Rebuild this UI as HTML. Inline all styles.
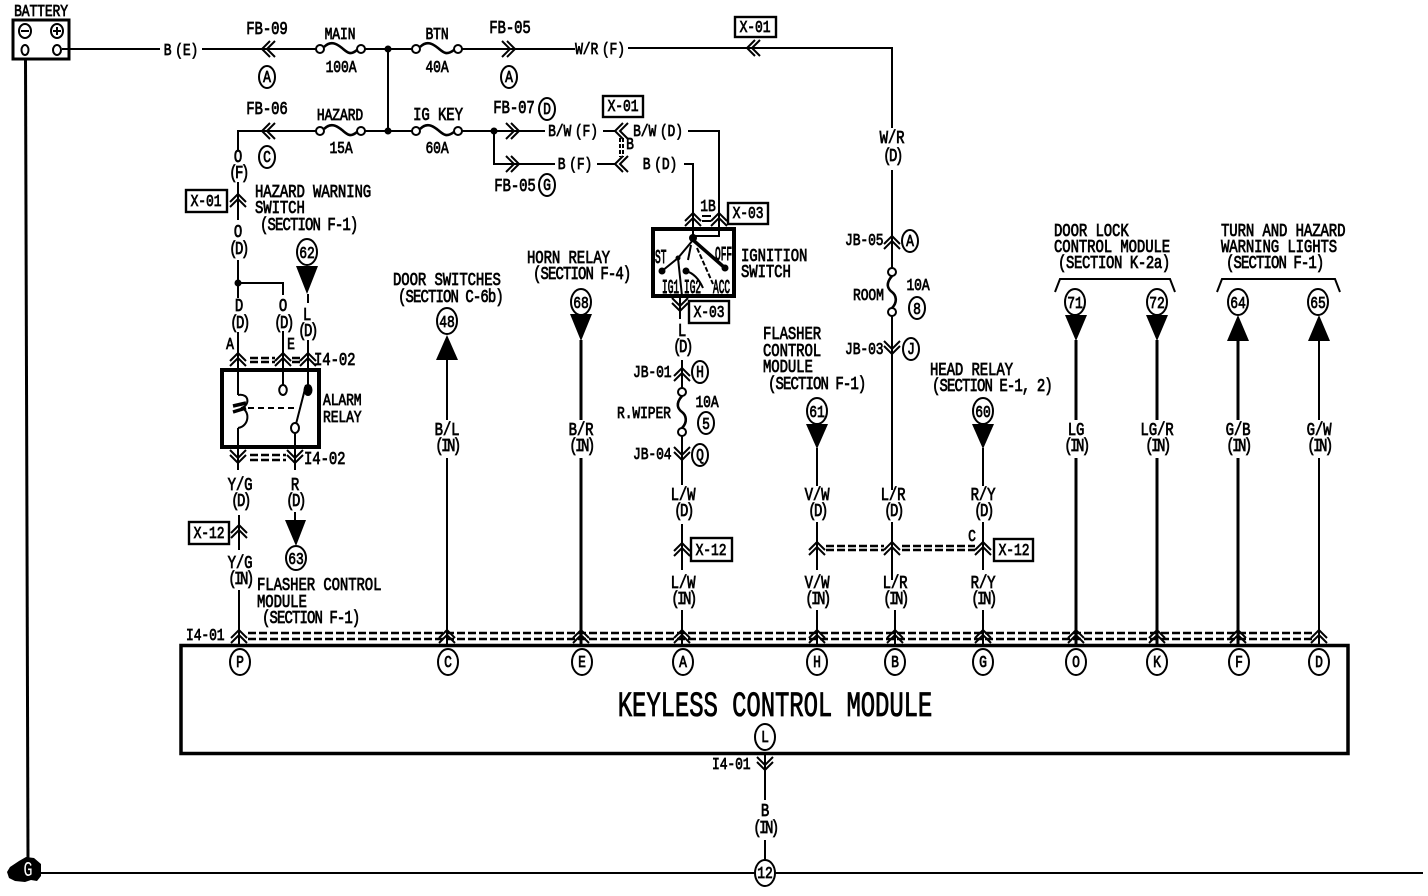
<!DOCTYPE html>
<html><head><meta charset="utf-8"><style>
html,body{margin:0;padding:0;background:#fff}
svg{display:block}
text{font-family:"Liberation Mono",monospace;font-size:14px;fill:#000;stroke:#000;stroke-width:.6;letter-spacing:-.1px}
.m{text-anchor:middle}
.s{font-size:13px}
.y{word-spacing:-4px}
.q{letter-spacing:-2.5px}
.x{letter-spacing:-.9px}
.i{font-size:9.5px;stroke-width:.5;letter-spacing:0}
.w{fill:none;stroke:#000;stroke-width:2}
.t{fill:none;stroke:#000;stroke-width:3}
.d{fill:none;stroke:#000;stroke-width:2.6;stroke-dasharray:8 3}
.f{fill:none;stroke:#000;stroke-width:2.6}
.c{fill:#fff;stroke:#000;stroke-width:2}
.a{fill:none;stroke:#000;stroke-width:2}
.b{fill:#fff;stroke:#000;stroke-width:2.4}
</style></head><body>
<svg width="1428" height="896" viewBox="0 0 1428 896" xmlns="http://www.w3.org/2000/svg">
<defs>
<g id="u" class="a"><path d="M-8 3 0-5 8 3M-8 8 0 0 8 8M0-6V10"/></g>
<g id="n" class="a"><path d="M-8-3 0 5 8-3M-8-8 0 0 8-8M0 6V-10"/></g>
<g id="l" class="a"><path d="M3-8-5 0 3 8M8-8 0 0 8 8"/></g>
<g id="r" class="a"><path d="M-3-8 5 0-3 8M-8-8 0 0-8 8"/></g>
</defs>

<!-- battery & ground -->
<rect x="13" y="20" width="56" height="39" fill="none" stroke="#000" stroke-width="3"/>
<ellipse class="c" cx="25" cy="31" rx="6" ry="7"/><ellipse class="c" cx="57" cy="31" rx="6" ry="7"/>
<path class="w" d="M21 31h8M53 31h8M57 27v8"/>
<ellipse class="c" cx="25" cy="50" rx="3.5" ry="5"/><ellipse class="c" cx="57" cy="50" rx="4" ry="5"/>
<path d="M25.5 59 28 862" fill="none" stroke="#000" stroke-width="3"/>
<path class="w" d="M38 873H1423" stroke-width="3"/>
<path d="M7 872 10 867 19 861 26 857 34 858 41 864 41 876 37 881 31 880 25 882 15 881 9 878Z" fill="#000"/>

<!-- top row -->
<path class="w" d="M62 49H160M202 49H316M365 49H412M462 49H575M628 48H892V128M388 49V131"/>
<circle cx="388" cy="49" r="3.5"/><circle cx="388" cy="131" r="3.5"/>
<circle class="c" cx="320" cy="49" r="4"/><circle class="c" cx="361" cy="49" r="4"/>
<circle class="c" cx="416" cy="49" r="4"/><circle class="c" cx="458" cy="49" r="4"/>
<path class="f" d="M324 47C331 40 337 44 342 48S350 56 357 50M420 47C427 40 433 44 438 48S446 56 454 50"/>
<use href="#l" x="267" y="49"/><use href="#r" x="510" y="49"/><use href="#l" x="752" y="48"/>

<!-- second row -->
<path class="w" d="M238 150V131H316M365 131H412M462 131H545M603 131H616M688 131H719V236H695M494 131V164H555M597 164H616M684 164H693V237"/>
<circle class="c" cx="320" cy="131" r="4"/><circle class="c" cx="361" cy="131" r="4"/>
<circle class="c" cx="416" cy="131" r="4"/><circle class="c" cx="458" cy="131" r="4"/>
<path class="f" d="M324 129C331 122 337 126 342 130S350 138 357 132M420 129C427 122 433 126 438 130S446 138 454 132"/>
<circle cx="494" cy="131" r="3.5"/>
<use href="#l" x="267" y="131"/><use href="#r" x="514" y="131"/><use href="#r" x="514" y="164"/>
<use href="#l" x="620" y="131"/><use href="#l" x="620" y="164"/>
<path class="a" d="M620 138V157M623 138V157" stroke-dasharray="4 2"/>

<!-- ignition switch -->
<rect x="653" y="229" width="81" height="67" fill="none" stroke="#000" stroke-width="4"/>
<use href="#u" x="693" y="218"/><use href="#u" x="719" y="218"/>
<path class="w" d="M693 209V229M719 209V229M702 216H711M702 221H711"/>
<circle cx="693" cy="238" r="4"/>
<path d="M693 240 725 268" fill="none" stroke="#000" stroke-width="3.5"/>
<path class="w" d="M693 240 678 258 662 271"/>
<circle cx="725" cy="268" r="3.5"/><circle cx="662" cy="271" r="3.5"/><circle cx="686" cy="271" r="3.5"/><circle cx="678" cy="258" r="2.5"/>
<path class="w" d="M691 245 688 260M686 271C693 273 699 279 703 288M678 258 682 296"/>
<path class="a" d="M697 248 713 284" stroke-dasharray="5 2"/>
<use href="#n" x="680" y="306"/><path class="w" d="M680 296V319"/>

<!-- left hazard branch -->
<path class="w" d="M238 182V220M238 260V298M238 283H283V295M283 331V386M238 332V395M238 428V470M308 294V303M308 340V386"/>
<circle cx="238" cy="283" r="3.5"/>
<use href="#u" x="238" y="199"/>
<use href="#u" x="238" y="358"/><use href="#u" x="283" y="358"/><use href="#u" x="308" y="358"/>
<path class="d" d="M250 358H275M250 362H275M292 358H300M292 362H300"/>
<!-- relay -->
<rect x="222" y="370" width="97" height="77" fill="none" stroke="#000" stroke-width="4"/>
<ellipse class="c" cx="283" cy="390" rx="3.8" ry="5"/>
<ellipse cx="308" cy="390" rx="4.5" ry="6"/>
<path class="w" d="M238 395C250 393 250 406 241 408C250 410 250 426 238 428"/>
<path d="M233 406 246 403M233 412 246 408" fill="none" stroke="#000" stroke-width="3.5"/>
<path class="a" d="M248 408H298" stroke-dasharray="6 4"/>
<path class="w" d="M306 385 296 424M295 432V470"/>
<ellipse class="c" cx="295" cy="428" rx="4" ry="5"/>
<use href="#n" x="238" y="458"/><use href="#n" x="295" y="458"/>
<path class="d" d="M250 455H286M250 460H286"/>
<path class="w" d="M239 515V550M239 590V645M295 512V520"/>
<use href="#u" x="239" y="530"/>
<path d="M285 520H306L296 546Z"/>
<ellipse class="c" cx="296" cy="558" rx="10" ry="12"/>
<ellipse class="c" cx="307" cy="252" rx="10" ry="13"/>
<path d="M296 266H318L307 294Z"/>

<!-- columns -->
<path class="w" d="M682 360V392M682 436V485M682 524V570M682 610V645M892 170V268M892 316V490M892 522V580M895 610V645"/>
<path class="w" d="M817 448V486M817 522V570M817 610V645M983 448V486M983 522V570M983 610V645"/>
<path class="w" d="M447 360V420M447 458V645"/>
<path class="t" d="M581 340V420M581 458V645M1076 340V420M1076 458V645M1157 340V420M1157 458V645M1238 340V420M1238 458V645"/>
<path class="w" d="M1319 340V420M1319 458V645M765 753V800M765 840V860"/>
<use href="#u" x="682" y="373"/><use href="#n" x="682" y="455"/><use href="#u" x="682" y="548"/>
<use href="#u" x="892" y="241"/><use href="#n" x="892" y="349"/>
<use href="#u" x="817" y="547"/><use href="#u" x="892" y="547"/><use href="#u" x="983" y="547"/>
<path class="d" d="M826 546H884M826 550H884M902 546H975M902 550H975"/>
<circle class="c" cx="682" cy="392" r="4"/><circle class="c" cx="682" cy="432" r="4"/>
<path class="f" d="M682 396C675 404 678 409 682 412S688 422 682 428" stroke-width="2"/>
<circle class="c" cx="892" cy="272" r="4"/><circle class="c" cx="892" cy="312" r="4"/>
<path class="f" d="M892 276C885 284 888 289 892 292S898 302 892 308" stroke-width="2"/>

<path d="M436 360H458L447 335Z"/><ellipse class="c" cx="447" cy="321" rx="10" ry="13"/>
<path d="M570 314H592L581 341Z"/><ellipse class="c" cx="581" cy="302" rx="10" ry="13"/>
<path d="M806 424H828L817 449Z"/><ellipse class="c" cx="817" cy="411" rx="10" ry="13"/>
<path d="M972 424H994L983 449Z"/><ellipse class="c" cx="983" cy="411" rx="10" ry="13"/>
<path d="M1065 315H1087L1076 341Z"/><ellipse class="c" cx="1075" cy="302" rx="10" ry="13"/>
<path d="M1146 315H1168L1157 341Z"/><ellipse class="c" cx="1157" cy="302" rx="10" ry="13"/>
<path d="M1227 341H1249L1238 315Z"/><ellipse class="c" cx="1238" cy="302" rx="10" ry="13"/>
<path d="M1308 341H1330L1319 315Z"/><ellipse class="c" cx="1318" cy="302" rx="10" ry="13"/>
<path class="w" d="M1055 292 1060 279H1170L1175 292M1217 292 1222 279H1335L1340 292"/>

<!-- bottom connector -->
<path class="d" d="M248 633H1312M248 639H1312"/>
<use href="#u" x="239" y="635"/><use href="#u" x="447" y="635"/><use href="#u" x="581" y="635"/><use href="#u" x="682" y="635"/><use href="#u" x="817" y="635"/><use href="#u" x="895" y="635"/><use href="#u" x="983" y="635"/><use href="#u" x="1076" y="635"/><use href="#u" x="1157" y="635"/><use href="#u" x="1238" y="635"/><use href="#u" x="1319" y="635"/>
<rect x="181" y="645.500" width="1167" height="108" fill="none" stroke="#000" stroke-width="3.5"/>
<use href="#n" x="765" y="765"/>

<!-- boxes -->
<rect class="b" x="186" y="190" width="41" height="22"/>
<rect class="b" x="735" y="17" width="41" height="20"/>
<rect class="b" x="603" y="96" width="40" height="21"/>
<rect class="b" x="728" y="203" width="40" height="21"/>
<rect class="b" x="689" y="301" width="40" height="22"/>
<rect class="b" x="189" y="522" width="40" height="22"/>
<rect class="b" x="691" y="538" width="41" height="23"/>
<rect class="b" x="994" y="539" width="39" height="22"/>

<!-- pin circles -->
<ellipse class="c" cx="240" cy="662" rx="10" ry="13"/><ellipse class="c" cx="448" cy="662" rx="10" ry="13"/><ellipse class="c" cx="582" cy="662" rx="10" ry="13"/><ellipse class="c" cx="683" cy="662" rx="10" ry="13"/><ellipse class="c" cx="817" cy="662" rx="10" ry="13"/><ellipse class="c" cx="895" cy="662" rx="10" ry="13"/><ellipse class="c" cx="983" cy="662" rx="10" ry="13"/><ellipse class="c" cx="1076" cy="662" rx="10" ry="13"/><ellipse class="c" cx="1157" cy="662" rx="10" ry="13"/><ellipse class="c" cx="1239" cy="662" rx="10" ry="13"/><ellipse class="c" cx="1319" cy="662" rx="10" ry="13"/>
<ellipse class="c" cx="765" cy="737" rx="10" ry="13"/><ellipse class="c" cx="765" cy="873" rx="10" ry="13"/>
<ellipse class="c" cx="267" cy="77" rx="8" ry="11"/><ellipse class="c" cx="267" cy="157" rx="8" ry="11"/><ellipse class="c" cx="509" cy="77" rx="8" ry="11"/>
<ellipse class="c" cx="547" cy="109" rx="8" ry="11"/><ellipse class="c" cx="547" cy="185" rx="8" ry="11"/>
<ellipse class="c" cx="910" cy="241" rx="8" ry="11"/><ellipse class="c" cx="917" cy="308" rx="8" ry="11"/><ellipse class="c" cx="911" cy="349" rx="8" ry="11"/>
<ellipse class="c" cx="700" cy="372" rx="8" ry="11"/><ellipse class="c" cx="706" cy="423" rx="8" ry="11"/><ellipse class="c" cx="700" cy="455" rx="8" ry="11"/>

<!-- text -->
<text class="m s" transform="matrix(1 0 0 1.3 41 16)">BATTERY</text>
<text class="m s y" transform="matrix(1 0 0 1.3 181 55)">B (E)</text>
<text class="m" transform="matrix(1 0 0 1.3 267 34)">FB-09</text>
<text class="m" transform="matrix(1 0 0 1.3 267 114)">FB-06</text>
<text class="m s" transform="matrix(1 0 0 1.3 340 39)">MAIN</text>
<text class="m s" transform="matrix(1 0 0 1.3 341 72)">100A</text>
<text class="m s" transform="matrix(1 0 0 1.3 437 39)">BTN</text>
<text class="m s" transform="matrix(1 0 0 1.3 437 72)">40A</text>
<text class="m s" transform="matrix(1 0 0 1.3 340 120)">HAZARD</text>
<text class="m s" transform="matrix(1 0 0 1.3 341 153)">15A</text>
<text class="m" transform="matrix(1 0 0 1.3 438 120)">IG KEY</text>
<text class="m s" transform="matrix(1 0 0 1.3 437 153)">60A</text>
<text class="m" transform="matrix(1 0 0 1.3 510 33)">FB-05</text>
<text class="m s y" transform="matrix(1 0 0 1.3 600 54)">W/R (F)</text>
<text class="m" transform="matrix(1 0 0 1.3 514 113)">FB-07</text>
<text class="m" transform="matrix(1 0 0 1.3 515 191)">FB-05</text>
<text class="m s y" transform="matrix(1 0 0 1.3 573 136)">B/W (F)</text>
<text class="m s y" transform="matrix(1 0 0 1.3 658 136)">B/W (D)</text>
<text class="m s y" transform="matrix(1 0 0 1.3 575 169)">B (F)</text>
<text class="m s y" transform="matrix(1 0 0 1.3 660 169)">B (D)</text>
<text class="m s" transform="matrix(1 0 0 1.3 630 149)">B</text>
<text class="m s" transform="matrix(1 0 0 1.3 755 32)">X-01</text>
<text class="m s" transform="matrix(1 0 0 1.3 623 111)">X-01</text>
<text class="m s" transform="matrix(1 0 0 1.3 206 206)">X-01</text>
<text class="m s" transform="matrix(1 0 0 1.3 748 218)">X-03</text>
<text class="m s" transform="matrix(1 0 0 1.3 709 317)">X-03</text>
<text class="m s" transform="matrix(1 0 0 1.3 209 538)">X-12</text>
<text class="m s" transform="matrix(1 0 0 1.3 711 555)">X-12</text>
<text class="m s" transform="matrix(1 0 0 1.3 1014 555)">X-12</text>
<text class="m s" transform="matrix(1 0 0 1.3 708 211)">1B</text>
<text class="m" transform="matrix(1 0 0 1.3 892 143)">W/R</text>
<text class="m q" transform="matrix(1 0 0 1.3 892 161)">(D)</text>
<text class="m" transform="matrix(1 0 0 1.3 238 162)">O</text>
<text class="m q" transform="matrix(1 0 0 1.3 238 178)">(F)</text>
<text class="m" transform="matrix(1 0 0 1.3 238 237)">O</text>
<text class="m q" transform="matrix(1 0 0 1.3 238 254)">(D)</text>
<text transform="matrix(1 0 0 1.3 255 197)">HAZARD WARNING</text>
<text transform="matrix(1 0 0 1.3 255 213)">SWITCH</text>
<text class="x" transform="matrix(1 0 0 1.3 260 230)">(SECTION F-1)</text>
<text class="m s" transform="matrix(1 0 0 1.3 307 258)">62</text>
<text class="m" transform="matrix(1 0 0 1.3 307 320)">L</text>
<text class="m q" transform="matrix(1 0 0 1.3 307 336)">(D)</text>
<text class="m" transform="matrix(1 0 0 1.3 239 311)">D</text>
<text class="m q" transform="matrix(1 0 0 1.3 239 328)">(D)</text>
<text class="m" transform="matrix(1 0 0 1.3 283 311)">O</text>
<text class="m q" transform="matrix(1 0 0 1.3 283 328)">(D)</text>
<text class="m s" transform="matrix(1 0 0 1.3 230 349)">A</text>
<text class="m s" transform="matrix(1 0 0 1.3 291 349)">E</text>
<text transform="matrix(1 0 0 1.3 314 365)">I4-02</text>
<text transform="matrix(1 0 0 1.3 304 464)">I4-02</text>
<text class="s" transform="matrix(1 0 0 1.3 323 405)">ALARM</text>
<text class="s" transform="matrix(1 0 0 1.3 323 422)">RELAY</text>
<text class="m" transform="matrix(1 0 0 1.3 240 490)">Y/G</text>
<text class="m q" transform="matrix(1 0 0 1.3 240 506)">(D)</text>
<text class="m" transform="matrix(1 0 0 1.3 295 490)">R</text>
<text class="m q" transform="matrix(1 0 0 1.3 295 506)">(D)</text>
<text class="m s" transform="matrix(1 0 0 1.3 296 564)">63</text>
<text class="m" transform="matrix(1 0 0 1.3 240 568)">Y/G</text>
<text class="m q" transform="matrix(1 0 0 1.3 240 584)">(IN)</text>
<text transform="matrix(1 0 0 1.3 257 590)">FLASHER CONTROL</text>
<text transform="matrix(1 0 0 1.3 257 607)">MODULE</text>
<text class="x" transform="matrix(1 0 0 1.3 262 623)">(SECTION F-1)</text>
<text class="s" transform="matrix(1 0 0 1.3 186 640)">I4-01</text>

<text transform="matrix(1 0 0 1.3 393 285)">DOOR SWITCHES</text>
<text class="x" transform="matrix(1 0 0 1.3 398 302)">(SECTION C-6b)</text>
<text class="m s" transform="matrix(1 0 0 1.3 447 327)">48</text>
<text class="m" transform="matrix(1 0 0 1.3 447 435)">B/L</text>
<text class="m q" transform="matrix(1 0 0 1.3 447 451)">(IN)</text>
<text transform="matrix(1 0 0 1.3 527 263)">HORN RELAY</text>
<text class="x" transform="matrix(1 0 0 1.3 533 279)">(SECTION F-4)</text>
<text class="m s" transform="matrix(1 0 0 1.3 581 308)">68</text>
<text class="m" transform="matrix(1 0 0 1.3 581 435)">B/R</text>
<text class="m q" transform="matrix(1 0 0 1.3 581 451)">(IN)</text>

<text class="i" transform="matrix(1 0 0 2 655 263)">ST</text>
<text class="i" transform="matrix(1 0 0 2 715 260)">OFF</text>
<text class="i" transform="matrix(1 0 0 2 662 293)">IG1</text>
<text class="i" transform="matrix(1 0 0 2 684 293)">IG2</text>
<text class="i" transform="matrix(1 0 0 2 713 293)">ACC</text>
<text transform="matrix(1 0 0 1.3 741 261)">IGNITION</text>
<text transform="matrix(1 0 0 1.3 741 277)">SWITCH</text>
<text class="m" transform="matrix(1 0 0 1.3 682 336)">L</text>
<text class="m q" transform="matrix(1 0 0 1.3 682 352)">(D)</text>
<text class="s" transform="matrix(1 0 0 1.3 633 377)">JB-01</text>
<text class="s" transform="matrix(1 0 0 1.3 633 459)">JB-04</text>
<text class="m s" transform="matrix(1 0 0 1.3 700 377)">H</text>
<text class="m s" transform="matrix(1 0 0 1.3 700 460)">Q</text>
<text class="s" transform="matrix(1 0 0 1.3 617 418)">R.WIPER</text>
<text class="m s" transform="matrix(1 0 0 1.3 707 407)">10A</text>
<text class="m s" transform="matrix(1 0 0 1.3 706 429)">5</text>
<text class="m" transform="matrix(1 0 0 1.3 683 500)">L/W</text>
<text class="m q" transform="matrix(1 0 0 1.3 683 516)">(D)</text>
<text class="m" transform="matrix(1 0 0 1.3 683 588)">L/W</text>
<text class="m q" transform="matrix(1 0 0 1.3 683 604)">(IN)</text>

<text transform="matrix(1 0 0 1.3 763 339)">FLASHER</text>
<text transform="matrix(1 0 0 1.3 763 356)">CONTROL</text>
<text transform="matrix(1 0 0 1.3 763 372)">MODULE</text>
<text class="x" transform="matrix(1 0 0 1.3 768 389)">(SECTION F-1)</text>
<text class="m s" transform="matrix(1 0 0 1.3 817 417)">61</text>
<text class="m" transform="matrix(1 0 0 1.3 817 500)">V/W</text>
<text class="m q" transform="matrix(1 0 0 1.3 817 516)">(D)</text>
<text class="m" transform="matrix(1 0 0 1.3 817 588)">V/W</text>
<text class="m q" transform="matrix(1 0 0 1.3 817 604)">(IN)</text>

<text class="s" transform="matrix(1 0 0 1.3 845 245)">JB-05</text>
<text class="s" transform="matrix(1 0 0 1.3 845 354)">JB-03</text>
<text class="m s" transform="matrix(1 0 0 1.3 910 246)">A</text>
<text class="m s" transform="matrix(1 0 0 1.3 911 354)">J</text>
<text class="s" transform="matrix(1 0 0 1.3 853 300)">ROOM</text>
<text class="m s" transform="matrix(1 0 0 1.3 918 290)">10A</text>
<text class="m s" transform="matrix(1 0 0 1.3 917 314)">8</text>
<text class="m" transform="matrix(1 0 0 1.3 893 500)">L/R</text>
<text class="m q" transform="matrix(1 0 0 1.3 893 516)">(D)</text>
<text class="m" transform="matrix(1 0 0 1.3 895 588)">L/R</text>
<text class="m q" transform="matrix(1 0 0 1.3 895 604)">(IN)</text>

<text transform="matrix(1 0 0 1.3 930 375)">HEAD RELAY</text>
<text class="x" transform="matrix(1 0 0 1.3 932 391)">(SECTION E-1, 2)</text>
<text class="m s" transform="matrix(1 0 0 1.3 983 417)">60</text>
<text class="m" transform="matrix(1 0 0 1.3 983 500)">R/Y</text>
<text class="m q" transform="matrix(1 0 0 1.3 983 516)">(D)</text>
<text class="m s" transform="matrix(1 0 0 1.3 972 541)">C</text>
<text class="m" transform="matrix(1 0 0 1.3 983 588)">R/Y</text>
<text class="m q" transform="matrix(1 0 0 1.3 983 604)">(IN)</text>

<text transform="matrix(1 0 0 1.3 1054 236)">DOOR LOCK</text>
<text transform="matrix(1 0 0 1.3 1054 252)">CONTROL MODULE</text>
<text style="letter-spacing:-.4px" transform="matrix(1 0 0 1.3 1058 268)">(SECTION K-2a)</text>
<text class="m s" transform="matrix(1 0 0 1.3 1075 308)">71</text>
<text class="m s" transform="matrix(1 0 0 1.3 1157 308)">72</text>
<text class="m" transform="matrix(1 0 0 1.3 1076 435)">LG</text>
<text class="m q" transform="matrix(1 0 0 1.3 1076 451)">(IN)</text>
<text class="m" transform="matrix(1 0 0 1.3 1157 435)">LG/R</text>
<text class="m q" transform="matrix(1 0 0 1.3 1157 451)">(IN)</text>
<text transform="matrix(1 0 0 1.3 1221 236)">TURN AND HAZARD</text>
<text transform="matrix(1 0 0 1.3 1221 252)">WARNING LIGHTS</text>
<text class="x" transform="matrix(1 0 0 1.3 1226 268)">(SECTION F-1)</text>
<text class="m s" transform="matrix(1 0 0 1.3 1238 308)">64</text>
<text class="m s" transform="matrix(1 0 0 1.3 1318 308)">65</text>
<text class="m" transform="matrix(1 0 0 1.3 1238 435)">G/B</text>
<text class="m q" transform="matrix(1 0 0 1.3 1238 451)">(IN)</text>
<text class="m" transform="matrix(1 0 0 1.3 1319 435)">G/W</text>
<text class="m q" transform="matrix(1 0 0 1.3 1319 451)">(IN)</text>

<text class="m s" transform="matrix(1 0 0 1.3 267 82)">A</text>
<text class="m s" transform="matrix(1 0 0 1.3 267 162)">C</text>
<text class="m s" transform="matrix(1 0 0 1.3 509 82)">A</text>
<text class="m s" transform="matrix(1 0 0 1.3 547 114)">D</text>
<text class="m s" transform="matrix(1 0 0 1.3 547 190)">G</text>
<text class="m s" transform="matrix(1 0 0 1.3 240 667)">P</text>
<text class="m s" transform="matrix(1 0 0 1.3 448 667)">C</text>
<text class="m s" transform="matrix(1 0 0 1.3 582 667)">E</text>
<text class="m s" transform="matrix(1 0 0 1.3 683 667)">A</text>
<text class="m s" transform="matrix(1 0 0 1.3 817 667)">H</text>
<text class="m s" transform="matrix(1 0 0 1.3 895 667)">B</text>
<text class="m s" transform="matrix(1 0 0 1.3 983 667)">G</text>
<text class="m s" transform="matrix(1 0 0 1.3 1076 667)">O</text>
<text class="m s" transform="matrix(1 0 0 1.3 1157 667)">K</text>
<text class="m s" transform="matrix(1 0 0 1.3 1239 667)">F</text>
<text class="m s" transform="matrix(1 0 0 1.3 1319 667)">D</text>
<text class="m" style="font-size:24px" transform="matrix(1 0 0 1.45 775 716)">KEYLESS CONTROL MODULE</text>
<text class="m s" transform="matrix(1 0 0 1.3 765 742)">L</text>
<text class="s" transform="matrix(1 0 0 1.3 712 769)">I4-01</text>
<text class="m" transform="matrix(1 0 0 1.3 765 816)">B</text>
<text class="m q" transform="matrix(1 0 0 1.3 765 833)">(IN)</text>
<text class="m s" transform="matrix(1 0 0 1.3 765 878)">12</text>
<text class="m" style="fill:#fff;stroke:none;font-size:15px" transform="matrix(1 0 0 1.4 28 876)">G</text>
</svg>
</body></html>
